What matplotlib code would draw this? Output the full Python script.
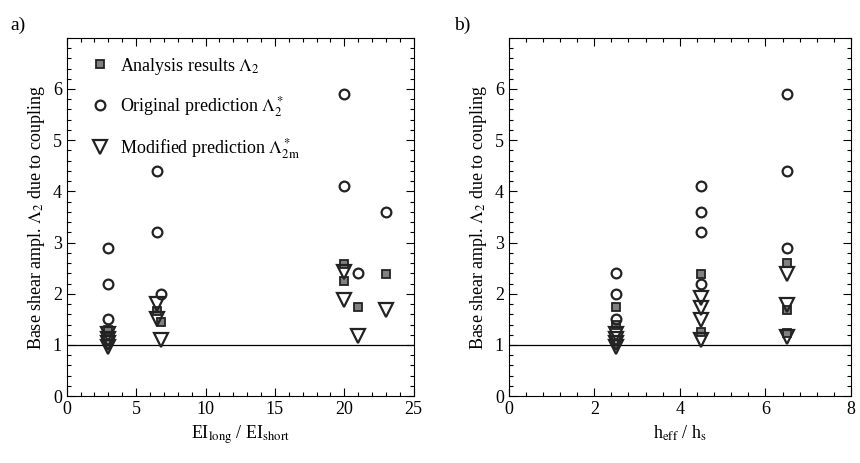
import numpy as np
import matplotlib.pyplot as plt
from matplotlib.ticker import MultipleLocator

plt.rcParams['font.family'] = ['Liberation Serif', 'DejaVu Serif']
plt.rcParams['mathtext.fontset'] = 'stix'

# a) stiffness ratio EI_long / EI_short
a_res_x = [3, 6.5, 6.8, 20, 20, 21, 23]
a_res_y = [1.3, 1.66, 1.44, 2.58, 2.24, 1.75, 2.38]
a_orig_x = [3, 3, 3, 6.5, 6.5, 6.8, 20, 20, 21, 23]
a_orig_y = [2.9, 2.2, 1.5, 4.4, 3.2, 2.0, 5.9, 4.1, 2.4, 3.6]
a_mod_x = [3, 3, 3, 3, 6.5, 6.5, 6.8, 20, 20, 21, 23]
a_mod_y = [1.22, 1.12, 1.03, 0.97, 1.8, 1.5, 1.1, 2.42, 1.87, 1.18, 1.68]

# b) height ratio h_eff / h_s
b_res_x = [2.5, 2.5, 4.5, 4.5, 6.5, 6.5, 6.5]
b_res_y = [1.75, 1.4, 2.38, 1.26, 2.6, 1.68, 1.23]
b_orig_x = [2.5, 2.5, 2.5, 4.5, 4.5, 4.5, 4.5, 6.5, 6.5, 6.5]
b_orig_y = [2.4, 2.0, 1.5, 4.1, 3.6, 3.2, 2.2, 5.9, 4.4, 2.9]
b_mod_x = [2.5, 2.5, 2.5, 2.5, 4.5, 4.5, 4.5, 4.5, 6.5, 6.5, 6.5]
b_mod_y = [1.22, 1.12, 1.03, 0.97, 1.91, 1.72, 1.49, 1.1, 2.39, 1.78, 1.16]

fig = plt.figure(figsize=(8.6, 4.63), dpi=100)
ax1 = fig.add_axes([0.0776, 0.1443, 0.4034, 0.7741])
ax2 = fig.add_axes([0.5915, 0.1443, 0.3980, 0.7741])

ec = '#222222'
fs = 13


def draw(ax, rx, ry, ox, oy, mx, my):
    ax.axhline(1, color='black', lw=0.9, zorder=1)
    ax.plot(rx, ry, 's', ms=6, mfc='#808080', mec=ec, mew=1.3, ls='none',
            label=r'Analysis results $\Lambda_2$', zorder=3)
    ax.plot(ox, oy, 'o', ms=7, mfc='none', mec=ec, mew=1.6, ls='none',
            label=r'Original prediction $\Lambda_2^*$', zorder=3)
    ax.plot(mx, my, 'v', ms=9.5, mfc='none', mec=ec, mew=1.6, ls='none',
            label=r'Modified prediction $\Lambda_{\mathrm{2m}}^*$', zorder=3)
    ax.set_ylim(0, 7)
    ax.set_yticks(range(0, 7))
    ax.yaxis.set_minor_locator(MultipleLocator(0.2))
    ax.tick_params(which='both', direction='in', top=True, right=True,
                   labelsize=fs, width=0.8)
    ax.tick_params(which='major', length=6)
    ax.tick_params(which='minor', length=3)
    ax.set_ylabel(r'Base shear ampl. $\Lambda_2$ due to coupling', fontsize=fs)
    for s in ax.spines.values():
        s.set_linewidth(0.8)


draw(ax1, a_res_x, a_res_y, a_orig_x, a_orig_y, a_mod_x, a_mod_y)
ax1.set_xlim(0, 25)
ax1.xaxis.set_major_locator(MultipleLocator(5))
ax1.xaxis.set_minor_locator(MultipleLocator(1))
ax1.set_xlabel(r'EI$_{\rm long}$ / EI$_{\rm short}$', fontsize=fs)
ax1.legend(loc='upper left', bbox_to_anchor=(0.04, 0.98), frameon=False,
           fontsize=fs, labelspacing=0.95, handletextpad=0.6,
           handlelength=1.0, borderaxespad=0.2)

draw(ax2, b_res_x, b_res_y, b_orig_x, b_orig_y, b_mod_x, b_mod_y)
ax2.set_xlim(0, 8)
ax2.xaxis.set_major_locator(MultipleLocator(2))
ax2.xaxis.set_minor_locator(MultipleLocator(0.4))
ax2.set_xlabel(r'h$_{\rm eff}$ / h$_{\rm s}$', fontsize=fs)

fig.text(0.012, 0.965, 'a)', fontsize=14, va='top')
fig.text(0.528, 0.965, 'b)', fontsize=14, va='top')

fig.savefig('out.png', dpi=100)
